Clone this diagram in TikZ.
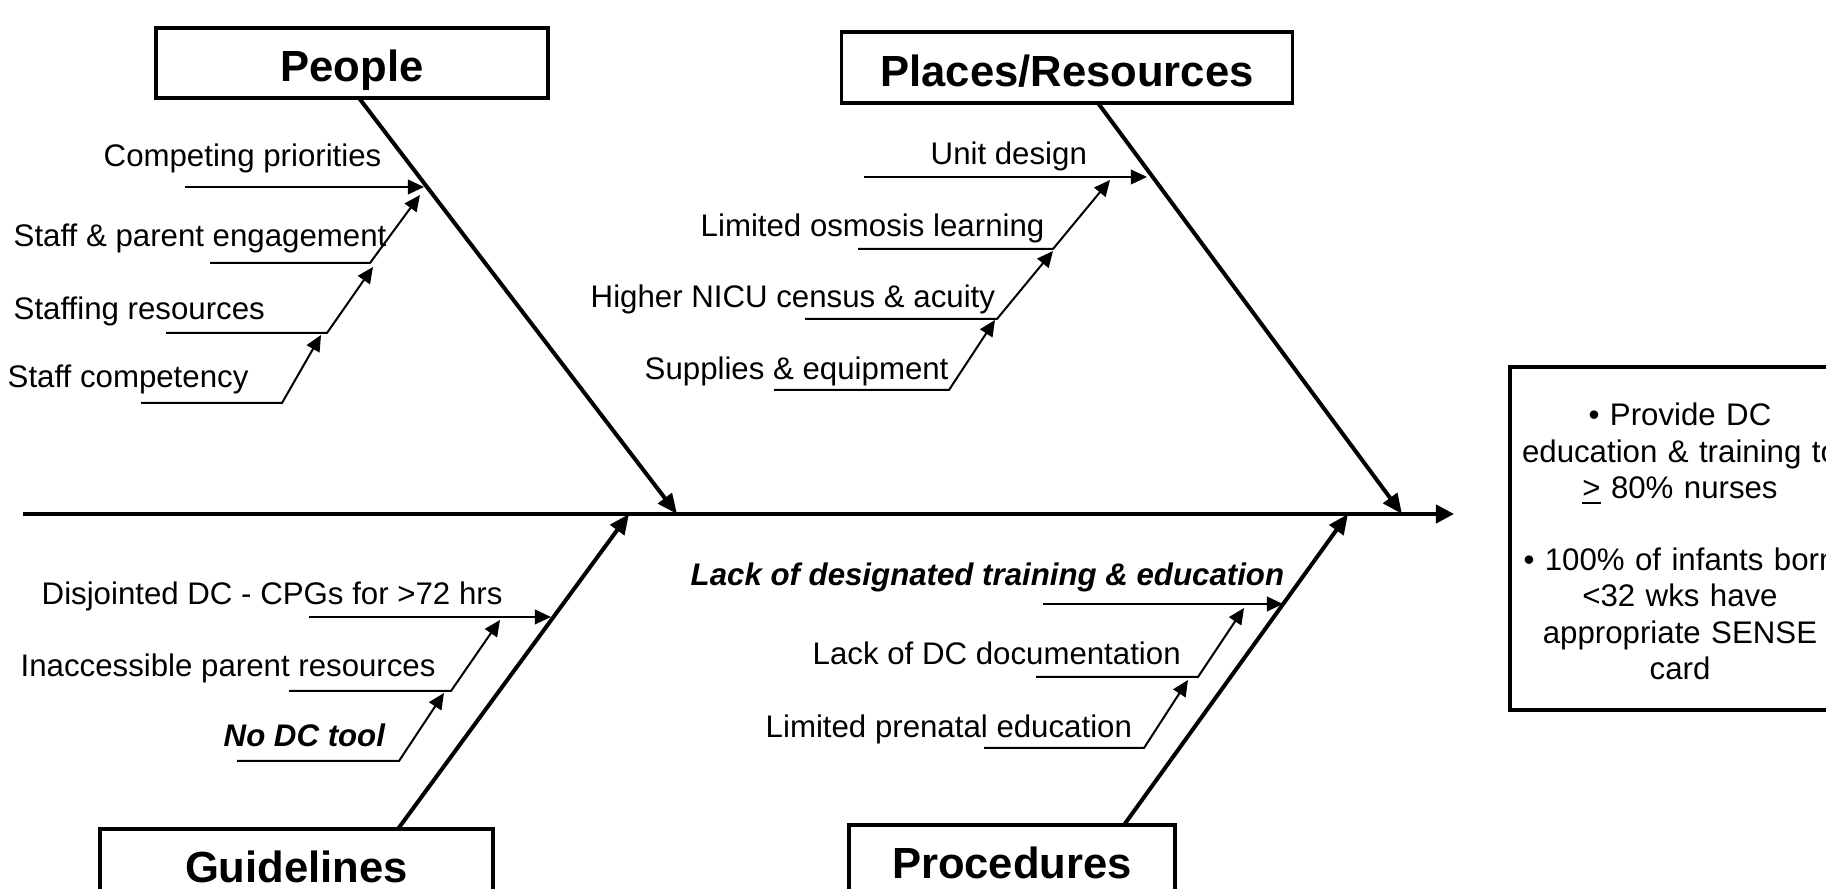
\documentclass[tikz,border=0pt]{standalone}
\usepackage{fontspec}
\setmainfont{Liberation Sans}
\usetikzlibrary{arrows.meta}
\begin{document}
\begin{tikzpicture}[x=0.01cm,y=-0.01cm,
  lbl/.style={anchor=base west,inner sep=0pt,font=\fontsize{8.88pt}{10.6pt}\selectfont},
  lblbi/.style={anchor=base west,inner sep=0pt,font=\fontsize{8.88pt}{10.6pt}\selectfont\bfseries\itshape},
  catbox/.style={draw,line width=0.035cm,inner sep=0pt,font=\fontsize{12.4pt}{14pt}\selectfont\bfseries},
  bone/.style={line width=0.04cm,-{Triangle[length=0.2cm,width=0.17cm]}},
  subarr/.style={line width=0.02cm,-{Triangle[length=0.16cm,width=0.145cm]}},
  ]
\useasboundingbox (0,0) rectangle (1826,889);
\clip (0,0) rectangle (1826,889);

% category boxes
\node[catbox,minimum width=3.92cm,minimum height=0.70cm] (people) at (352,63) {\raisebox{-0.19cm}[0pt][0pt]{People}};
\node[catbox,minimum width=4.51cm,minimum height=0.71cm] (places) at (1067,67.5) {\raisebox{-0.195cm}[0pt][0pt]{Places/Resources}};
\node[catbox,minimum width=3.93cm,minimum height=1.10cm] (guide) at (296.5,884) {\raisebox{0.01cm}[0pt][0pt]{Guidelines}};
\node[catbox,minimum width=3.26cm,minimum height=1.10cm] (proc) at (1012,880) {\raisebox{0.01cm}[0pt][0pt]{Procedures}};

% goal box
\node[draw,line width=0.035cm,minimum width=3.40cm,minimum height=3.43cm,align=center,text width=3.3cm,inner sep=0pt,
  font=\fontsize{8.88pt}{10.3pt}\selectfont] (goal) at (1680,538.5)
  {\rule{0pt}{0.285cm}• Provide DC\\ education \& training to\\ \underline{>} 80\% nurses\\[10.3pt] • 100\% of infants born\\ <32 wks have\\ appropriate SENSE\\ card};

% spine
\coordinate (s0) at (23,514);
\coordinate (s1) at (1454,514);
\draw[line width=0.04cm,-{Triangle[length=0.18cm,width=0.18cm]}] (s0) -- (s1);

% bones
\coordinate (pt) at (359,98);   \coordinate (ph) at (677,514);
\coordinate (lt) at (1098,103); \coordinate (lh) at (1402,514);
\coordinate (gt) at (398,829);  \coordinate (gh) at (629,514);
\coordinate (rt) at (1124,825); \coordinate (rh) at (1348,514);
\draw[bone] (pt) -- (ph);
\draw[bone] (lt) -- (lh);
\draw[bone] (gt) -- (gh);
\draw[bone] (rt) -- (rh);

% People causes
\coordinate (p1a) at (185,187); \coordinate (p1t) at (424,187);
\coordinate (p2a) at (210,263); \coordinate (p2b) at (370,263); \coordinate (p2t) at (420,195);
\coordinate (p3a) at (166,333); \coordinate (p3b) at (327,333); \coordinate (p3t) at (373,267);
\coordinate (p4a) at (141,403); \coordinate (p4b) at (282,403); \coordinate (p4t) at (321,335);
\draw[subarr] (p1a) -- (p1t);
\draw[subarr] (p2a) -- (p2b) -- (p2t);
\draw[subarr] (p3a) -- (p3b) -- (p3t);
\draw[subarr] (p4a) -- (p4b) -- (p4t);
\node[lbl] (pl1) at (103,167) {Competing priorities};
\node[lbl] (pl2) at (13,247) {Staff \& parent engagement};
\node[lbl] (pl3) at (13,320) {Staffing resources};
\node[lbl] (pl4) at (7,388) {Staff competency};

% Places causes
\coordinate (u1a) at (864,177); \coordinate (u1t) at (1147,177);
\coordinate (u2a) at (858,249); \coordinate (u2b) at (1053,249); \coordinate (u2t) at (1110,180);
\coordinate (u3a) at (805,319); \coordinate (u3b) at (997,319);  \coordinate (u3t) at (1053,251);
\coordinate (u4a) at (774,390); \coordinate (u4b) at (949,390);  \coordinate (u4t) at (995,320);
\draw[subarr] (u1a) -- (u1t);
\draw[subarr] (u2a) -- (u2b) -- (u2t);
\draw[subarr] (u3a) -- (u3b) -- (u3t);
\draw[subarr] (u4a) -- (u4b) -- (u4t);
\node[lbl] (ul1) at (930,165) {Unit design};
\node[lbl] (ul2) at (700,237) {Limited osmosis learning};
\node[lbl] (ul3) at (590,308) {Higher NICU census \& acuity};
\node[lbl] (ul4) at (644,380) {Supplies \& equipment};

% Guidelines causes
\coordinate (g1a) at (309,617); \coordinate (g1t) at (551,617);
\coordinate (g2a) at (289,691); \coordinate (g2b) at (451,691); \coordinate (g2t) at (500,620);
\coordinate (g3a) at (237,761); \coordinate (g3b) at (399,761); \coordinate (g3t) at (444,693);
\draw[subarr] (g1a) -- (g1t);
\draw[subarr] (g2a) -- (g2b) -- (g2t);
\draw[subarr] (g3a) -- (g3b) -- (g3t);
\node[lbl] (gl1) at (41,605) {Disjointed DC - CPGs for >72 hrs};
\node[lbl] (gl2) at (20,677) {Inaccessible parent resources};
\node[lblbi] (gl3) at (223,747) {No DC tool};

% Procedures causes
\coordinate (r1a) at (1043,604); \coordinate (r1t) at (1283,604);
\coordinate (r2a) at (1036,677); \coordinate (r2b) at (1198,677); \coordinate (r2t) at (1244,608);
\coordinate (r3a) at (984,748);  \coordinate (r3b) at (1144,748); \coordinate (r3t) at (1188,680);
\draw[subarr] (r1a) -- (r1t);
\draw[subarr] (r2a) -- (r2b) -- (r2t);
\draw[subarr] (r3a) -- (r3b) -- (r3t);
\node[lblbi] (rl1) at (690,586) {Lack of designated training \& education};
\node[lbl] (rl2) at (812,665) {Lack of DC documentation};
\node[lbl] (rl3) at (765,738) {Limited prenatal education};
\end{tikzpicture}
\end{document}
